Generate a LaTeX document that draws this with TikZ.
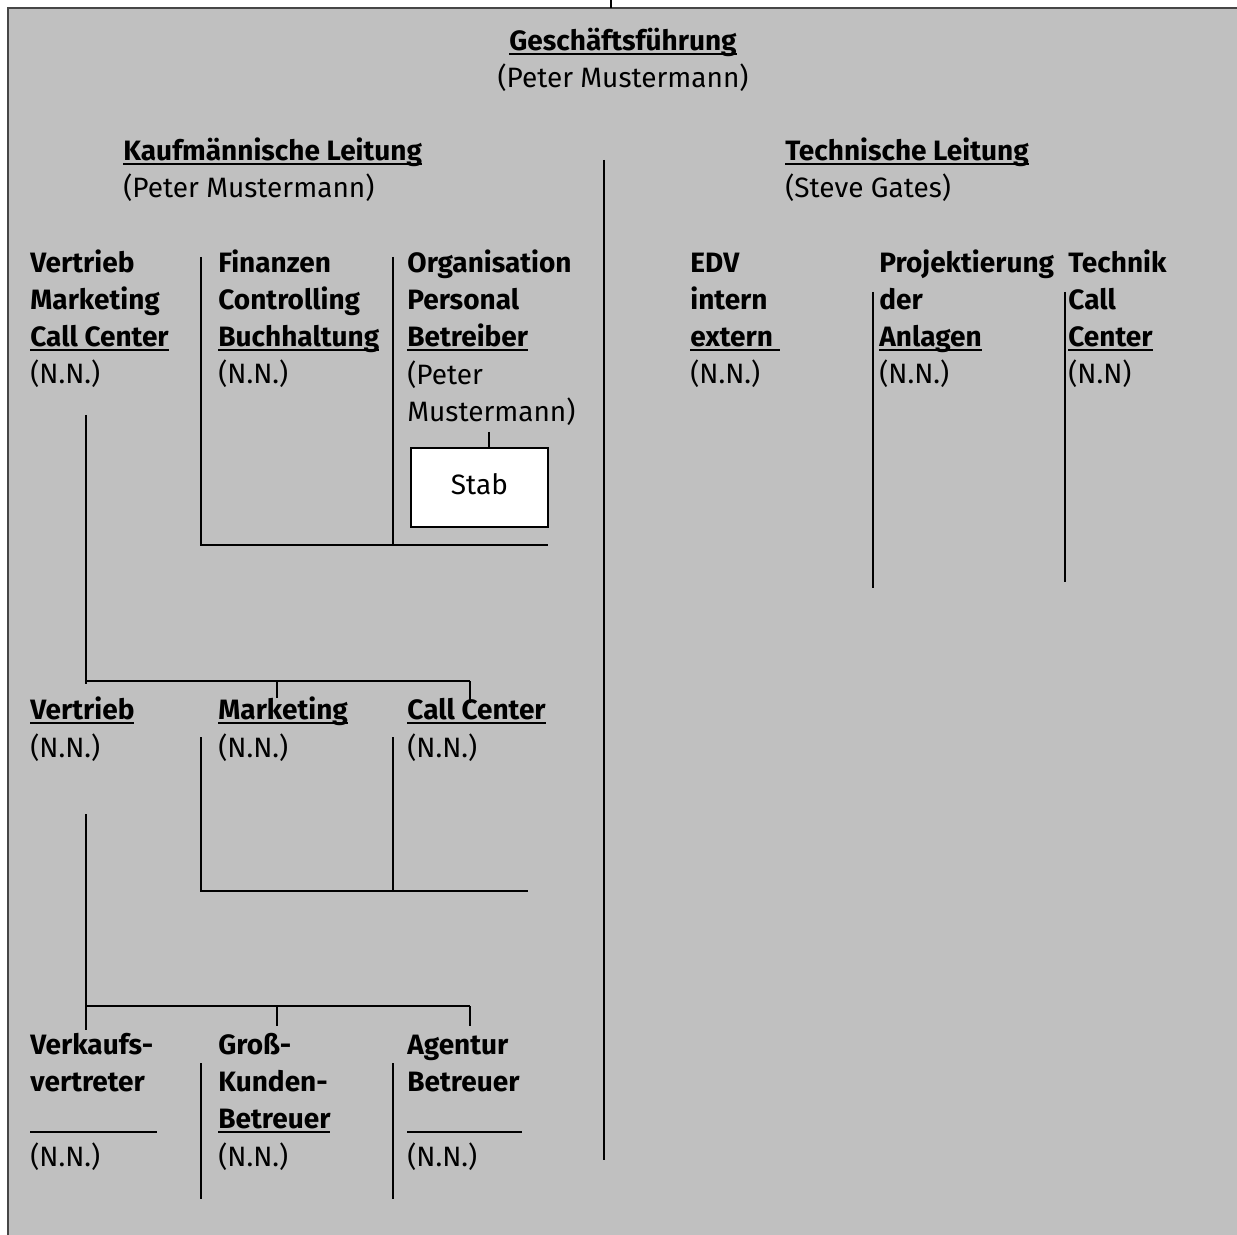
\documentclass[tikz,border=0pt]{standalone}
\usepackage{fontspec}
\setmainfont{Fira Sans}
\definecolor{bgray}{RGB}{192,192,192}
\definecolor{frameg}{RGB}{70,70,70}
\newcommand{\ulx}[1]{\setbox0\hbox{#1}\rlap{\rule[-2.3pt]{\wd0}{1.3pt}}\box0}
\newcommand{\blankul}[1]{\rule[-2.3pt]{#1}{1.3pt}}
\begin{document}
\begin{tikzpicture}[x=0.5pt,y=-0.5pt,
  txt/.style={inner sep=0pt, anchor=base west, align=left, font=\fontsize{14}{18.65}\selectfont},
  ctxt/.style={txt, anchor=base, align=center},
  ln/.style={line width=1pt, black},
  stabbox/.style={draw=black, line width=0.8pt, fill=white, minimum width=68.5pt, minimum height=39.5pt, inner sep=0pt, font=\fontsize{14}{18.65}\selectfont}]
\useasboundingbox (0,0) rectangle (1237,1235);
\fill[bgray] (8,8) rectangle (1237,1235);
\draw[frameg, line width=1pt] (8,1235) -- (8,8) -- (1237,8);
\draw[ln] (611,0) -- (611,8);

% top (anchors at the baseline of the last line)
\node[ctxt] (gf) at (623,88) {\textbf{\ulx{Geschäftsführung}}\\(Peter Mustermann)};
\node[txt] (kl) at (123,198) {\textbf{\ulx{Kaufmännische Leitung}}\\(Peter Mustermann)};
\node[txt] (tl) at (785,198) {\textbf{\ulx{Technische Leitung}}\\(Steve Gates)};

% row 1
\node[txt] (vmc) at (30,384) {\textbf{Vertrieb}\\\textbf{Marketing}\\\textbf{\ulx{Call Center}}\\(N.N.)};
\node[txt] (fcb) at (218,384) {\textbf{Finanzen}\\\textbf{Controlling}\\\textbf{\ulx{Buchhaltung}}\\(N.N.)};
\node[txt] (opb) at (407,421.5) {\textbf{Organisation}\\\textbf{Personal}\\\textbf{\ulx{Betreiber}}\\(Peter\\Mustermann)};
\node[stabbox] (stab) at (479.5,487.5) {\raisebox{3pt}{Stab}};

\node[txt] (edv) at (690,384) {\textbf{EDV}\\\textbf{intern}\\\textbf{\ulx{extern\ }}\\(N.N.)};
\node[txt] (proj) at (879,384) {\textbf{Projektierung}\\\textbf{der}\\\textbf{\ulx{Anlagen}}\\(N.N.)};
\node[txt] (tcc) at (1068,384) {\textbf{Technik}\\\textbf{Call}\\\textbf{\ulx{Center}}\\(N.N)};

% row 2
\node[txt] (vt) at (30,757) {\textbf{\ulx{Vertrieb}}\\(N.N.)};
\node[txt] (mk) at (218,757) {\textbf{\ulx{Marketing}}\\(N.N.)};
\node[txt] (cc) at (407,757) {\textbf{\ulx{Call Center}}\\(N.N.)};

% row 3
\node[txt] (vk) at (30,1166) {\textbf{Verkaufs-}\\\textbf{vertreter}\\\blankul{63.5pt}\\(N.N.)};
\node[txt] (gk) at (218,1166) {\textbf{Groß-}\\\textbf{Kunden-}\\\textbf{\ulx{Betreuer}}\\(N.N.)};
\node[txt] (ab) at (407,1166) {\textbf{Agentur}\\\textbf{Betreuer}\\\blankul{57.5pt}\\(N.N.)};

% lines
\draw[ln] (604,160) -- (604,1160);
\draw[ln] (201,257) -- (201,545) -- (548,545);
\draw[ln] (393,257) -- (393,545);
\draw[ln] (489,432) -- (489,448);

\draw[ln] (86,415) -- (86,684);
\draw[ln] (86,681) -- (470,681);
\draw[ln] (277,681) -- (277,698);
\draw[ln] (470,681) -- (470,703);

\draw[ln] (201,737) -- (201,891) -- (528,891);
\draw[ln] (393,737) -- (393,891);

\draw[ln] (86,814) -- (86,1030);
\draw[ln] (86,1006) -- (470,1006);
\draw[ln] (277,1006) -- (277,1026);
\draw[ln] (470,1006) -- (470,1026);

\draw[ln] (201,1063) -- (201,1199);
\draw[ln] (393,1063) -- (393,1199);

\draw[ln] (873,292) -- (873,588);
\draw[ln] (1065,292) -- (1065,582);
\end{tikzpicture}
\end{document}
